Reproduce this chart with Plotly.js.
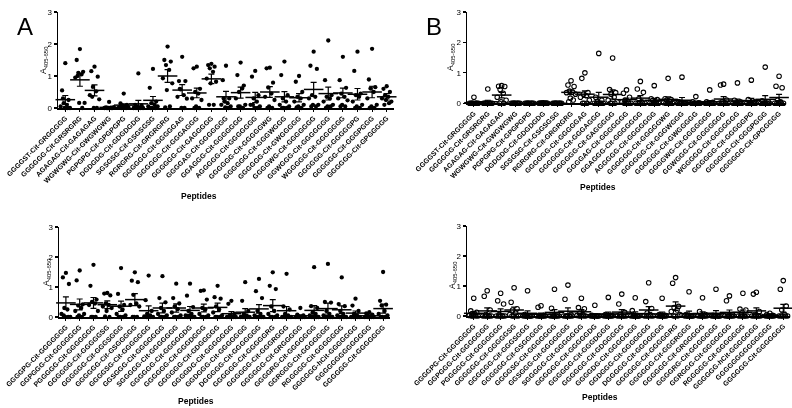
<!DOCTYPE html>
<html>
<head>
<meta charset="utf-8">
<script src="https://cdn.plot.ly/plotly-3.0.1.min.js"></script>
<style>html,body{margin:0;padding:0;background:#fff}#chart{width:792px;height:408px;filter:grayscale(100%)}</style>
</head>
<body>
<div id="chart"></div>
<script>
// ---------- DATA ----------
const topLabels = [
 "GGGGST-Cit-GRGGGGG","GGGGGG-Cit-GRSRGRG","AGAGAG-Cit-GAGAGAG","WGWGWG-Cit-GWGWGWG",
 "PGPGPG-Cit-GPGPGPG","DGDGDG-Cit-GDGDGDG","SGSGSG-Cit-GSGSGSG","RGRGRG-Cit-GRGRGRG",
 "GGGGGG-Cit-GGGGGAG","GGGGGG-Cit-GGGAGGG","GGGGGG-Cit-GAGGGGG","GGGGAG-Cit-GGGGGGG",
 "GGAGGG-Cit-GGGGGGG","AGGGGG-Cit-GGGGGGG","GGGGGG-Cit-GGGGGWG","GGGGGG-Cit-GGGWGGG",
 "GGGGGG-Cit-GWGGGGG","GGGGWG-Cit-GGGGGGG","GGWGGG-Cit-GGGGGGG","WGGGGG-Cit-GGGGGGG",
 "GGGGGG-Cit-GGGGGPG","GGGGGG-Cit-GGGPGGG","GGGGGG-Cit-GPGGGGG"];
const bottomLabels = [
 "GGGGPG-Cit-GGGGGGG","GGPGGG-Cit-GGGGGGG","PGGGGG-Cit-GGGGGGG","GGGGGG-Cit-GGGGGSG",
 "GGGGGG-Cit-GGGSGGG","GGGGGG-Cit-GSGGGGG","GGGGSG-Cit-GGGGGGG","GGSGGG-Cit-GGGGGGG",
 "SGGGGG-Cit-GGGGGGG","GGGGGG-Cit-GGGGGDG","GGGGGG-Cit-GGGDGGG","GGGGGG-Cit-GDGGGGG",
 "GGGGDG-Cit-GGGGGGG","GGDGGG-Cit-GGGGGGG","DGGGGG-Cit-GGGGGGG","GGGGGG-Cit-GGGGGRG",
 "GGGGGG-Cit-GGGRGGG","GGGGGG-Cit-GRGGGGG","GGGGRG-Cit-GGGGGGG","GGRGGG-Cit-GGGGGGG",
 "RGGGGG-Cit-GGGGGGG","GGGGGG-hCit-GGGGGGG","GGGGGGGGGGGGGG","GGGGGG-Cit-GGGGGGG"];
const yTickVals = [0, 1, 2, 3];
const yTitle = "A<sub>405-650</sub>";
const xTitle = "Peptides";

// Panel A (top) - individual values
const topA_points = [
 [1.40,0.55,0.25,0.15,0.10,0.05,0,0,0,0.30],
 [1.84,1.50,1.13,1.10,1.05,0.95,0.16,0.16,0,1.00],
 [1.29,1.15,0.98,0.66,0.52,0.40,0.27,0,0,0.35],
 [0.19,0.02,0,0,0.01,0,0.03,0,0,0],
 [0.45,0.14,0.10,0.08,0.06,0.03,0.02,0.01,0,0],
 [1.08,0.10,0.08,0.05,0.02,0,0,0,0,0],
 [1.22,0.63,0.20,0.15,0.10,0.05,0.05,0,0,0],
 [1.92,1.50,1.45,1.34,1.19,0.93,0.77,0.56,0.05,0.02],
 [1.60,0.84,0.84,0.58,0.40,0.35,0.29,0,0,0.60],
 [1.29,1.24,0.60,0.50,0.45,0.30,0.25,0.05,0,0],
 [1.38,1.34,1.29,1.24,1.13,0.92,0.82,0.77,0.10,0.10],
 [1.32,0.87,0.30,0.20,0.15,0.10,0.05,0.02,0,0.30],
 [1.42,1.03,0.70,0.50,0.61,0.30,0.10,0.05,0,0.05],
 [1.16,0.98,0.40,0.30,0.20,0.10,0.05,0,0,0.10],
 [1.26,1.24,0.79,0.64,0.45,0.35,0.25,0.05,0,0],
 [1.45,1.03,0.40,0.30,0.20,0.10,0.05,0,0,0],
 [1.00,0.82,0.50,0.35,0.30,0.20,0.10,0.05,0,0.02],
 [1.76,1.32,1.22,0.40,0.35,0.30,0.10,0.10,0.05,0.05],
 [2.11,0.87,0.40,0.35,0.30,0.20,0.10,0.05,0.05,0],
 [1.60,0.87,0.63,0.45,0.35,0.30,0.24,0.10,0.05,0.05],
 [1.76,1.16,0.45,0.40,0.35,0.20,0.10,0.05,0,0],
 [1.85,0.89,0.65,0.61,0.50,0.30,0.10,0.05,0,0],
 [0.68,0.60,0.50,0.40,0.35,0.30,0.20,0.25,0.15,0.10]];
const topA_mean = [0.26,0.88,0.55,0.02,0.09,0.13,0.24,1.00,0.56,0.47,0.91,0.35,0.48,0.33,0.50,0.35,0.32,0.58,0.45,0.47,0.43,0.50,0.35];
const topA_sem  = [0.13,0.20,0.17,0.02,0.04,0.11,0.12,0.20,0.17,0.15,0.15,0.17,0.17,0.16,0.17,0.16,0.13,0.22,0.20,0.15,0.18,0.18,0.10];

// Panel A (bottom)
const botA_points = [
 [1.47,1.32,1.10,0.30,0.25,0.10,0,0,0,0.05],
 [1.55,1.22,0.42,0.38,0.30,0.20,0.10,0.05,0,0],
 [1.74,1.04,0.58,0.50,0.45,0.40,0.20,0,0,0],
 [0.80,0.78,0.72,0.45,0.40,0.35,0.30,0.20,0,0.02],
 [1.63,0.77,0.40,0.35,0.25,0.10,0.05,0,0,0],
 [1.49,1.21,1.16,0.74,0.45,0.40,0.35,0,0,0],
 [1.38,0.56,0.20,0.10,0.05,0.02,0,0,0,0],
 [1.36,0.63,0.49,0.30,0.20,0.10,0.05,0,0,0],
 [1.11,0.63,0.45,0.35,0.26,0.15,0.05,0,0,0],
 [1.11,0.71,0.33,0.20,0.10,0.05,0,0,0,0],
 [0.89,0.87,0.58,0.30,0.25,0.10,0.05,0,0,0],
 [1.04,0.66,0.61,0.35,0.25,0.15,0.05,0,0,0],
 [0.54,0.44,0.10,0.05,0.02,0,0,0,0,0],
 [1.16,0.54,0.20,0.10,0.05,0,0,0,0,0],
 [1.27,0.86,0.63,0.20,0.10,0.05,0,0,0,0],
 [1.49,1.04,0.93,0.35,0.20,0.10,0.05,0,0,0],
 [1.44,0.35,0.25,0.10,0.05,0,0,0,0,0],
 [0.30,0.08,0.05,0.02,0,0,0,0,0,0],
 [1.66,0.36,0.30,0.15,0.10,0.05,0,0,0,0],
 [1.77,0.50,0.48,0.20,0.10,0.05,0,0,0,0],
 [1.32,0.43,0.36,0.20,0.10,0.05,0,0,0,0],
 [0.61,0.38,0.20,0.10,0.05,0,0,0,0,0],
 [0.16,0.12,0.08,0.05,0.02,0,0,0,0,0],
 [1.50,0.54,0.41,0.38,0.20,0.10,0.05,0,0,0]];
const botA_mean = [0.47,0.42,0.47,0.41,0.36,0.58,0.21,0.30,0.30,0.22,0.30,0.32,0.11,0.16,0.27,0.38,0.21,0.04,0.22,0.28,0.24,0.13,0.04,0.28];
const botA_sem  = [0.20,0.18,0.18,0.13,0.17,0.20,0.16,0.16,0.14,0.13,0.13,0.14,0.07,0.12,0.14,0.20,0.14,0.03,0.16,0.18,0.13,0.07,0.02,0.15];

// Panel B (top)
const topB_points = [
 [0.20,0,0,0,0,0,0,0,0,0],
 [0.47,0,0,0,0,0,0,0,0,0],
 [0.58,0.56,0.55,0.45,0.33,0.20,0.10,0.05,0,0],
 [0,0,0,0,0,0,0,0,0,0],
 [0,0,0,0,0,0,0,0,0,0],
 [0.02,0.01,0.01,0,0,0,0,0,0,0],
 [0,0,0,0,0,0,0,0,0,0],
 [0.74,0.60,0.55,0.40,0.37,0.35,0.30,0.17,0.11,0.05],
 [1.00,0.82,0.35,0.30,0.25,0.20,0.10,0,0,0],
 [1.64,0.20,0.10,0.05,0,0,0,0,0,0],
 [1.49,0.45,0.35,0.30,0.20,0.10,0.05,0,0,0],
 [0.44,0.33,0.20,0.10,0.05,0.05,0,0,0,0],
 [0.72,0.47,0.36,0.15,0.05,0,0,0,0,0],
 [0.58,0.15,0.12,0.10,0.05,0,0,0,0,0],
 [0.82,0.15,0.12,0.10,0.05,0.02,0,0,0,0],
 [0.86,0.05,0.02,0,0,0,0,0,0,0],
 [0.22,0.05,0.02,0,0,0,0,0,0,0],
 [0.44,0.05,0.03,0,0,0,0,0,0,0],
 [0.63,0.60,0.11,0.05,0.02,0,0,0,0,0],
 [0.67,0.10,0.05,0,0,0,0,0,0,0],
 [0.76,0.12,0.05,0,0,0,0,0,0,0],
 [1.19,0.08,0.05,0,0,0,0,0,0,0],
 [0.89,0.56,0.51,0.10,0.05,0,0,0,0,0]];
const topB_mean = [0.02,0.05,0.27,0,0,0.01,0,0.36,0.30,0.20,0.29,0.12,0.17,0.10,0.13,0.10,0.03,0.05,0.14,0.08,0.09,0.13,0.19];
const topB_sem  = [0.02,0.05,0.09,0,0,0.01,0,0.07,0.11,0.16,0.15,0.05,0.08,0.06,0.08,0.09,0.02,0.04,0.08,0.06,0.07,0.12,0.10];

// Panel B (bottom)
const botB_points = [
 [0.59,0.17,0.12,0.08,0.05,0.02,0,0,0,0],
 [0.84,0.66,0.20,0.05,0,0,0,0,0,0],
 [0.76,0.51,0.40,0.05,0,0,0,0,0,0],
 [0.94,0.46,0.24,0.20,0.10,0.05,0,0,0,0],
 [0.84,0.05,0,0,0,0,0,0,0,0],
 [0.34,0.29,0.02,0,0,0,0,0,0,0],
 [0.89,0.26,0.05,0,0,0,0,0,0,0],
 [1.03,0.56,0.05,0,0,0,0,0,0,0],
 [0.59,0.28,0.24,0.10,0.05,0.02,0,0,0,0],
 [0.36,0.02,0,0,0,0,0,0,0,0],
 [0.62,0.05,0.02,0,0,0,0,0,0,0],
 [0.73,0.40,0.12,0.05,0,0,0,0,0,0],
 [0.61,0.18,0,0,0,0,0,0,0,0],
 [1.11,0.48,0.25,0.10,0.05,0,0,0,0,0],
 [0.59,0.05,0.02,0,0,0,0,0,0,0],
 [1.28,1.09,0.32,0.28,0.20,0.15,0.05,0,0,0],
 [0.81,0.05,0,0,0,0,0,0,0,0],
 [0.61,0.15,0.05,0,0,0,0,0,0,0],
 [0.89,0.02,0,0,0,0,0,0,0,0],
 [0.67,0.51,0.05,0,0,0,0,0,0,0],
 [0.76,0.23,0.20,0.05,0,0,0,0,0,0],
 [0.79,0.73,0.15,0.05,0,0,0,0,0,0],
 [0.09,0.05,0.02,0,0,0,0,0,0,0],
 [1.18,0.89,0.33,0.20,0.05,0,0,0,0,0]];
const botB_mean = [0.09,0.17,0.15,0.20,0.09,0.06,0.12,0.16,0.14,0.04,0.07,0.13,0.08,0.20,0.07,0.33,0.08,0.08,0.09,0.12,0.12,0.17,0.02,0.26];
const botB_sem  = [0.06,0.10,0.09,0.10,0.08,0.04,0.09,0.11,0.07,0.04,0.06,0.08,0.06,0.11,0.06,0.14,0.08,0.06,0.09,0.08,0.08,0.10,0.01,0.13];

// ---------- STYLE / LAYOUT ----------
const W = 792, H = 408;
const FONT = 'Arial, Liberation Sans, sans-serif';
const JIT = [0, -0.22, 0.22, -0.11, 0.11, -0.32, 0.32, -0.05, 0.16, -0.16];
const px = v => v / W, py = v => 1 - v / H;

const traces = [];
function addPanel(labels, pts, mean, sem, xa, ya, open) {
  const xs = [], ys = [];
  pts.forEach((g, i) => g.forEach((v, j) => { xs.push(i + JIT[j % JIT.length]); ys.push(v); }));
  traces.push({
    type: 'scatter', mode: 'markers', x: xs, y: ys, xaxis: xa, yaxis: ya, cliponaxis: false,
    hoverinfo: 'skip', showlegend: false,
    marker: open ? {symbol: 'circle-open', size: 4.5, color: '#000', line: {width: 1.1, color: '#000'}}
                 : {symbol: 'circle', size: 4.3, color: '#000'}
  });
  traces.push({
    type: 'scatter', mode: 'markers', x: labels.map((_, i) => i), y: mean, xaxis: xa, yaxis: ya,
    cliponaxis: false, hoverinfo: 'skip', showlegend: false,
    marker: {symbol: 'line-ew', size: 14, color: '#000', line: {width: 1.5, color: '#000'}},
    error_y: {type: 'data', array: sem, visible: true, color: '#000', thickness: 1.2, width: 3}
  });
}
addPanel(topLabels, topA_points, topA_mean, topA_sem, 'x', 'y', false);
addPanel(topLabels, topB_points, topB_mean, topB_sem, 'x2', 'y2', true);
addPanel(bottomLabels, botA_points, botA_mean, botA_sem, 'x3', 'y3', false);
addPanel(bottomLabels, botB_points, botB_mean, botB_sem, 'x4', 'y4', true);

function xAxis(labels, d0, d1, anchor) {
  return {
    domain: [px(d0), px(d1)], anchor: anchor, range: [-0.5, labels.length - 0.5],
    tickvals: labels.map((_, i) => i), ticktext: labels.map(s => '<b>' + s + '</b>'), tickangle: -45,
    tickfont: {family: FONT, size: 7, color: '#000'},
    showline: true, linecolor: '#000', linewidth: 1.5, ticks: 'outside', ticklen: 2,
    tickcolor: '#000', tickwidth: 1, showgrid: false, zeroline: false, automargin: false
  };
}
function yAxis(t0, t1, anchor) {
  return {
    domain: [py(t1), py(t0)], anchor: anchor, range: [0, 3], tickvals: yTickVals,
    tickfont: {family: FONT, size: 8, color: '#000'},
    showline: true, linecolor: '#000', linewidth: 1.5, ticks: 'outside', ticklen: 3,
    tickcolor: '#000', tickwidth: 1.2, showgrid: false, zeroline: false, automargin: false
  };
}

const ann = (text, x, y, size, angle) => ({
  text: text, x: px(x), y: py(y), xref: 'paper', yref: 'paper', textangle: angle || 0,
  showarrow: false, xanchor: 'center', yanchor: 'middle',
  font: {family: FONT, size: size, color: '#000'}
});

const layout = {
  width: W, height: H, margin: {l: 0, r: 0, t: 0, b: 0},
  paper_bgcolor: '#fff', plot_bgcolor: '#fff', showlegend: false,
  xaxis: xAxis(topLabels, 58, 394, 'y'),
  yaxis: yAxis(12, 108, 'x'),
  xaxis2: xAxis(topLabels, 467, 786, 'y2'),
  yaxis2: yAxis(12, 103.3, 'x2'),
  xaxis3: xAxis(bottomLabels, 59, 390, 'y3'),
  yaxis3: yAxis(227, 317, 'x3'),
  xaxis4: xAxis(bottomLabels, 467, 790, 'y4'),
  yaxis4: yAxis(226, 316, 'x4'),
  annotations: [
    ann('A', 25, 27, 24),
    ann('B', 434, 26, 24),
    ann(yTitle, 43, 60, 8.5, -90),
    ann(yTitle, 451, 57, 8.5, -90),
    ann(yTitle, 46, 272, 8.5, -90),
    ann(yTitle, 452, 275, 8.5, -90),
    ann('<b>' + xTitle + '</b>', 199, 196, 8.5),
    ann('<b>' + xTitle + '</b>', 598, 187, 8.5),
    ann('<b>' + xTitle + '</b>', 196, 401, 8.5),
    ann('<b>' + xTitle + '</b>', 600, 397, 8.5)
  ]
};

Plotly.newPlot('chart', traces, layout, {staticPlot: true, displayModeBar: false});
</script>
</body>
</html>
